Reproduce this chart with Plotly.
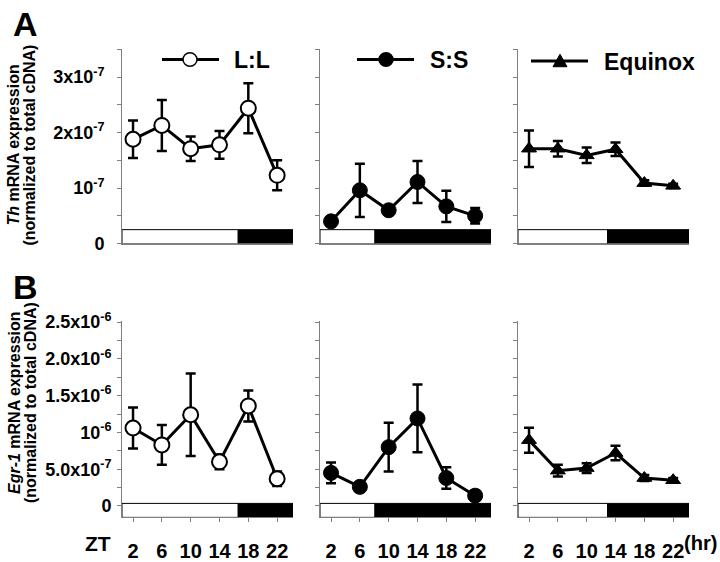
import plotly.graph_objects as go

# ---------------- data ----------------
zt = [2, 6, 10, 14, 18, 22]
groups = ["L:L", "S:S", "Equinox"]

# Th mRNA (x 1e-7)
th_LL = [1.88, 2.13, 1.71, 1.78, 2.44, 1.23]
th_LL_err = [0.34, 0.46, 0.22, 0.25, 0.45, 0.27]
th_SS = [0.40, 0.96, 0.60, 1.11, 0.67, 0.50]
th_SS_err = [0.05, 0.48, 0.07, 0.38, 0.28, 0.14]
th_EQ = [1.71, 1.71, 1.59, 1.70, 1.09, 1.04]
th_EQ_err = [0.33, 0.14, 0.14, 0.12, 0.05, 0.04]

# Egr-1 mRNA (x 1e-6)
egr_LL = [1.06, 0.83, 1.24, 0.60, 1.36, 0.37]
egr_LL_err = [0.28, 0.27, 0.56, 0.10, 0.21, 0.10]
egr_SS = [0.45, 0.26, 0.80, 1.19, 0.38, 0.14]
egr_SS_err = [0.14, 0.05, 0.33, 0.46, 0.145, 0.07]
egr_EQ = [0.895, 0.48, 0.515, 0.72, 0.38, 0.35]
egr_EQ_err = [0.17, 0.08, 0.065, 0.10, 0.04, 0.03]

# end of light phase (ZT, as drawn) for each photoperiod
light_end = [16.6, 8.1, 12.9]

th_ticks = [0, 1e-7, 2e-7, 3e-7]
th_ticktext = ["0", "10<sup>-7</sup>", "2x10<sup>-7</sup>", "3x10<sup>-7</sup>"]
egr_ticks = [0, 0.5e-6, 1e-6, 1.5e-6, 2e-6, 2.5e-6]
egr_ticktext = ["0", "5.0x10<sup>-7</sup>", "10<sup>-6</sup>",
                "1.5x10<sup>-6</sup>", "2.0x10<sup>-6</sup>", "2.5x10<sup>-6</sup>"]

# ---------------- layout helpers ----------------
W, H = 720, 562
def px(x): return x / W
def py(y): return 1 - y / H

FONT = "Arial, Liberation Sans, sans-serif"
XR = [0.47, 24.2]
TH_R = [0, 3.5e-7]
EGR_R = [-0.155e-6, 2.51e-6]
xdoms = [[px(122), px(293)], [px(320), px(491)], [px(518), px(689)]]
ydom_top = [py(242), py(40)]
ydom_bot = [py(527), py(323)]

markers = [
    dict(symbol="circle", size=15, color="white", line=dict(color="black", width=2)),
    dict(symbol="circle", size=15, color="black", line=dict(color="black", width=1)),
    dict(symbol="triangle-up", size=13, color="black", line=dict(color="black", width=1)),
]

th_data = [(th_LL, th_LL_err), (th_SS, th_SS_err), (th_EQ, th_EQ_err)]
egr_data = [(egr_LL, egr_LL_err), (egr_SS, egr_SS_err), (egr_EQ, egr_EQ_err)]

fig = go.Figure()
layout = dict(width=W, height=H, margin=dict(l=0, r=0, t=0, b=0),
              paper_bgcolor="white", plot_bgcolor="white", showlegend=False)
shapes = []
annotations = []

for row in range(2):
    for col in range(3):
        idx = row * 3 + col + 1
        xa = "x" if idx == 1 else f"x{idx}"
        ya = "y" if idx == 1 else f"y{idx}"
        xk = "xaxis" if idx == 1 else f"xaxis{idx}"
        yk = "yaxis" if idx == 1 else f"yaxis{idx}"
        if row == 0:
            vals, err = th_data[col]
            scale = 1e-7
            yr = TH_R
            ticks, ttext = th_ticks, th_ticktext
            minor_dt = 0.5e-7
            standoff = 9
            bar = (0, 0.25e-7)
        else:
            vals, err = egr_data[col]
            scale = 1e-6
            yr = EGR_R
            ticks, ttext = egr_ticks, egr_ticktext
            minor_dt = 0.25e-6
            standoff = 2
            bar = (EGR_R[0], 0.035e-6)
        yv = [v * scale for v in vals]
        ev = [e * scale for e in err]
        fig.add_trace(go.Scatter(
            x=zt, y=yv, xaxis=xa, yaxis=ya, mode="lines+markers",
            line=dict(color="black", width=3), marker=markers[col],
            error_y=dict(type="data", array=ev, color="black", thickness=2.5, width=5),
            cliponaxis=False, name=groups[col]))
        xdict = dict(domain=xdoms[col], range=XR, anchor=ya,
                     showline=True, linecolor="#7f7f7f", linewidth=1,
                     showgrid=False, zeroline=False)
        if row == 1:
            xdict.update(tickvals=zt, ticktext=[str(z) for z in zt],
                         ticks="outside", ticklen=4, tickcolor="#7f7f7f",
                         showticklabels=True, ticklabelstandoff=12,
                         tickfont=dict(family=FONT, size=20, color="black", weight="bold"))
        else:
            xdict.update(showticklabels=False, ticks="")
        layout[xk] = xdict
        layout[yk] = dict(domain=ydom_top if row == 0 else ydom_bot, range=yr, anchor=xa,
                          showline=True, linecolor="#7f7f7f", linewidth=1,
                          showgrid=False, zeroline=False,
                          tickvals=ticks, ticktext=ttext, ticks="outside", ticklen=4,
                          tickcolor="#7f7f7f", showticklabels=(col == 0),
                          ticklabelstandoff=standoff,
                          minor=dict(tick0=0, dtick=minor_dt, ticks="outside", ticklen=4,
                                     tickcolor="#7f7f7f", showgrid=False),
                          tickfont=dict(family=FONT, size=18, color="black", weight="bold"))
        # light / dark bars
        shapes.append(dict(type="rect", xref=xa, yref=ya, x0=XR[0], x1=light_end[col],
                           y0=bar[0], y1=bar[1], fillcolor="white",
                           line=dict(color="black", width=1), layer="below"))
        shapes.append(dict(type="rect", xref=xa, yref=ya, x0=light_end[col], x1=XR[1],
                           y0=bar[0], y1=bar[1], fillcolor="black",
                           line=dict(color="black", width=1), layer="below"))

# legends drawn on top panels
leg = [(162, 219, 190, 50.5, 232, "L:L"), (357, 414, 386, 50.5, 428, "S:S"),
       (531, 588, 560, 52, 602, "Equinox")]
for i, (lx0, lx1, mx, ly, tx, label) in enumerate(leg):
    shapes.append(dict(type="line", xref="paper", yref="paper",
                       x0=px(lx0), x1=px(lx1), y0=py(ly), y1=py(ly),
                       line=dict(color="black", width=3)))
    if i < 2:
        r = 7
        shapes.append(dict(type="circle", xref="paper", yref="paper",
                           x0=px(mx - r), x1=px(mx + r), y0=py(ly + r), y1=py(ly - r),
                           fillcolor="white" if i == 0 else "black",
                           line=dict(color="black", width=1.5)))
    else:
        path = (f"M {px(mx - 7)} {py(ly + 6)} L {px(mx + 7)} {py(ly + 6)} "
                f"L {px(mx)} {py(ly - 7)} Z")
        shapes.append(dict(type="path", xref="paper", yref="paper", path=path,
                           fillcolor="black", line=dict(color="black", width=1)))
    annotations.append(dict(xref="paper", yref="paper", x=px(tx), y=py(ly + 1),
                            xanchor="left", yanchor="middle", showarrow=False,
                            text=f"<b>{label}</b>",
                            font=dict(family=FONT, size=23, color="black")))

# panel letters
annotations.append(dict(xref="paper", yref="paper", x=px(11), y=py(14), xanchor="left",
                        yanchor="middle", showarrow=False, text="<b>A</b>",
                        font=dict(family=FONT, size=34, color="black")))
annotations.append(dict(xref="paper", yref="paper", x=px(11), y=py(287), xanchor="left",
                        yanchor="middle", showarrow=False, text="<b>B</b>",
                        font=dict(family=FONT, size=34, color="black")))

# y-axis titles (two lines each)
for (l1, cy) in [("<b><i>Th</i> mRNA expression</b>", 140),
                 ("<b><i>Egr-1</i> mRNA expression</b>", 408)]:
    annotations.append(dict(xref="paper", yref="paper", x=px(14), y=py(cy),
                            xanchor="center", yanchor="middle", showarrow=False,
                            textangle=-90, text=l1,
                            font=dict(family=FONT, size=16, color="black")))
    annotations.append(dict(xref="paper", yref="paper", x=px(30), y=py(cy),
                            xanchor="center", yanchor="middle", showarrow=False,
                            textangle=-90, text="<b>(normalized to total cDNA)</b>",
                            font=dict(family=FONT, size=16, color="black")))

# ZT and (hr)
annotations.append(dict(xref="paper", yref="paper", x=px(98), y=py(554),
                        xanchor="center", yanchor="middle", showarrow=False,
                        text="<b>ZT</b>", font=dict(family=FONT, size=21, color="black")))
annotations.append(dict(xref="paper", yref="paper", x=px(700), y=py(554),
                        xanchor="center", yanchor="middle", showarrow=False,
                        text="<b>(hr)</b>", font=dict(family=FONT, size=20, color="black")))

layout["shapes"] = shapes
layout["annotations"] = annotations
fig.update_layout(**layout)
fig.write_html("out.html", config={"displayModeBar": False},
               post_script="document.body.style.margin='0';document.body.style.overflow='hidden';")
